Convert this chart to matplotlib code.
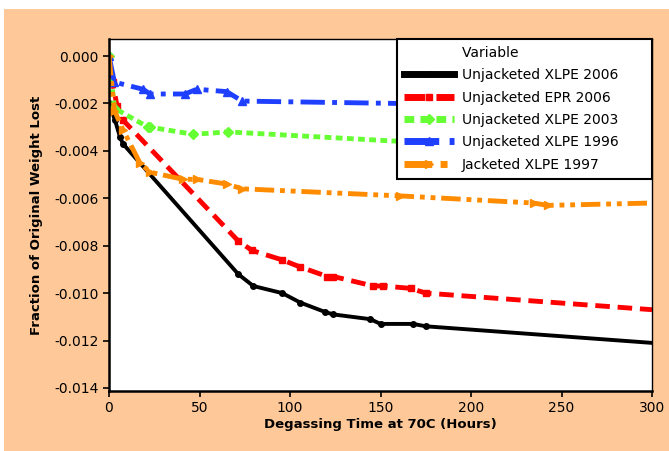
import numpy as np
import matplotlib.pyplot as plt
from matplotlib.lines import Line2D
from matplotlib.patches import Rectangle

# Unjacketed XLPE 2006
x_xlpe06 = [0, 3.3, 6, 7.7, 71.4, 79.7, 95.7, 105.7, 119.5, 124, 144.4, 150, 168, 175, 300]
y_xlpe06 = [-0.0020, -0.0027, -0.0034, -0.0037, -0.0092, -0.0097, -0.0100, -0.0104,
            -0.0108, -0.0109, -0.0111, -0.0113, -0.0113, -0.0114, -0.0121]
# Unjacketed EPR 2006
x_epr06 = [0, 2, 4.4, 7.7, 71.4, 79, 95.7, 105.7, 120.6, 124, 146, 151.6, 166.6, 175, 300]
y_epr06 = [-0.0008, -0.0011, -0.0021, -0.0027, -0.0078, -0.0082, -0.0086, -0.0089,
           -0.0093, -0.0093, -0.0097, -0.0097, -0.0098, -0.0100, -0.0107]
# Unjacketed XLPE 2003
x_xlpe03 = [0, 3, 21.6, 22.7, 46.5, 66, 161, 300]
y_xlpe03 = [0.0, -0.0022, -0.0030, -0.0030, -0.0033, -0.0032, -0.0036, -0.0039]
# Unjacketed XLPE 1996
x_xlpe96 = [0, 3, 18.8, 22.7, 42, 48.5, 65, 73.6, 161, 300]
y_xlpe96 = [0.0, -0.0011, -0.0014, -0.0016, -0.0016, -0.0014, -0.0015, -0.0019, -0.0020, -0.0023]
# Jacketed XLPE 1997
x_jxlpe97 = [0, 3, 7.7, 17, 22.7, 41, 48.5, 65, 73.6, 161, 234.6, 242.4, 300]
y_jxlpe97 = [0.0, -0.0023, -0.0031, -0.0045, -0.0049, -0.0052, -0.0052, -0.0054,
             -0.0056, -0.0059, -0.0062, -0.0063, -0.0062]

fig = plt.figure(figsize=(6.69, 4.51), dpi=100, facecolor='white')
bg = Rectangle((4 / 669, 0), 1, (451 - 9) / 451, transform=fig.transFigure,
               facecolor='#fec898', edgecolor='none', zorder=-10)
fig.add_artist(bg)
ax = fig.add_axes([109 / 669, 1 - 391 / 451, (652 - 109) / 669, (391 - 39) / 451])
ax.set_facecolor('white')


def mk(xs):
    # markers on measured points, none on the final end point
    return list(range(len(xs) - 1))


ax.plot(x_xlpe06, y_xlpe06, color='black', lw=2.8, ls='-', marker='o', ms=4,
        markevery=mk(x_xlpe06), label='Unjacketed XLPE 2006')
ax.plot(x_epr06, y_epr06, color='#ff0000', lw=3.5, ls=(0, (3, 1.6)), marker='s', ms=5,
        markevery=mk(x_epr06), label='Unjacketed EPR 2006')
ax.plot(x_xlpe03, y_xlpe03, color='#66ff33', lw=3.5, ls=(0, (1.4, 0.9)), marker='D', ms=5,
        markevery=mk(x_xlpe03), label='Unjacketed XLPE 2003')
ax.plot(x_xlpe96, y_xlpe96, color='#1f3fff', lw=3.5, ls=(0, (5, 1.5, 1, 1.5)), marker='^', ms=6,
        markevery=mk(x_xlpe96), label='Unjacketed XLPE 1996')
ax.plot(x_jxlpe97, y_jxlpe97, color='#ff8c00', lw=3.5, ls=(0, (4, 1.2, 1, 1.2, 1, 1.2)),
        marker='>', ms=6, markevery=mk(x_jxlpe97), label='Jacketed XLPE 1997')

ax.set_xlim(0, 300)
ax.set_ylim(-0.01413, 0.00072)
ax.set_xticks([0, 50, 100, 150, 200, 250, 300])
yt = np.arange(-0.014, 0.0005, 0.002)
ax.set_yticks(yt)
ax.set_yticklabels(['%.3f' % v if abs(v) > 1e-9 else '0.000' for v in yt])
ax.tick_params(direction='out', length=4, width=1.2, labelsize=10, colors='black')
for s in ['left', 'bottom']:
    ax.spines[s].set_linewidth(1.8)
for s in ['top', 'right']:
    ax.spines[s].set_linewidth(1.0)

ax.set_xlabel('Degassing Time at 70C (Hours)', fontsize=9.5, fontweight='bold', labelpad=2)
ax.set_ylabel('Fraction of Original Weight Lost', fontsize=9.5, fontweight='bold', labelpad=8)

handles, labels = ax.get_legend_handles_labels()
title_handle = Line2D([], [], color='none')
pad = '      '
leg = ax.legend([title_handle] + handles, [l + pad for l in ['Variable'] + labels],
                loc='upper right', bbox_to_anchor=(1.0, 1.0), borderaxespad=0, fontsize=10,
                handlelength=3.6, handletextpad=0.6, labelspacing=0.6, fancybox=False,
                framealpha=1, edgecolor='black', borderpad=0.5)
leg.get_frame().set_linewidth(1.5)
for h in leg.legend_handles[1:]:
    h.set_linewidth(5)

fig.savefig('out.png', dpi=100, facecolor=fig.get_facecolor())
